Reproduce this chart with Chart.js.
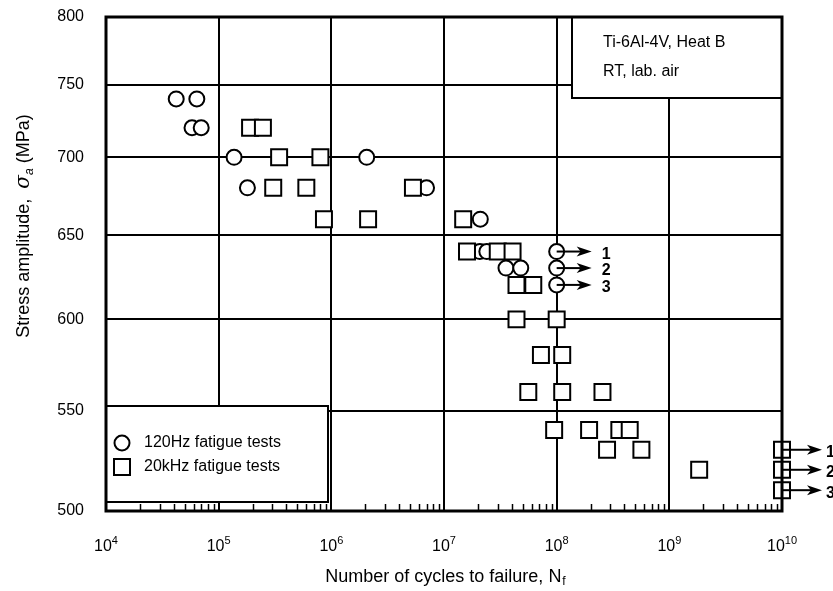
<!DOCTYPE html>
<html>
<head>
<meta charset="utf-8">
<title>Ti-6Al-4V S-N data</title>
<script src="https://cdn.jsdelivr.net/npm/chart.js@4.4.0/dist/chart.umd.min.js"></script>
<style>
  html, body { margin: 0; padding: 0; background: #fff; }
  .wrap { position: relative; width: 833px; height: 591px; }
</style>
</head>
<body>
<div class="wrap"><canvas id="sn" width="833" height="591"></canvas></div>
<script>
// cycles to failure / stress amplitude (MPa)
var hz120Cycles = [4.2e4, 6.4e4, 5.8e4, 7.0e4, 1.37e5, 2.06e6, 1.8e5, 7.0e6, 2.1e7, 2.08e7, 2.4e7, 3.55e7, 4.8e7];
var hz120Stress = [740, 740, 720, 720, 700, 700, 680, 680, 660, 640, 640, 630, 630];

var khz20Cycles = [1.9e5, 2.47e5, 3.44e5, 8.0e5, 3.05e5, 6.0e5, 5.3e6, 8.6e5, 2.12e6, 1.48e7,
  1.6e7, 3.0e7, 4.06e7, 4.4e7, 6.2e7, 4.4e7, 1.0e8, 7.25e7, 1.12e8, 5.6e7, 1.12e8, 2.55e8,
  9.5e7, 1.94e8, 3.6e8, 4.45e8, 2.8e8, 5.65e8, 1.84e9];
var khz20Stress = [720, 720, 700, 700, 680, 680, 680, 660, 660, 660,
  640, 640, 640, 620, 620, 600, 600, 580, 580, 560, 560, 560,
  540, 540, 540, 540, 530, 530, 520];

// run-outs (no failure), numbered 1..3
var hz120RunoutCycles = [1e8, 1e8, 1e8];
var hz120RunoutStress = [640, 630, 620];
var khz20RunoutCycles = [1e10, 1e10, 1e10];
var khz20RunoutStress = [530, 520, 510];
var runoutLabels = ["1", "2", "3"];

var xTicks = [1e4, 1e5, 1e6, 1e7, 1e8, 1e9, 1e10];
var yTicks = [500, 550, 600, 650, 700, 750, 800];

var legendLabels = ["120Hz fatigue tests", "20kHz fatigue tests"];
var noteLines = ["Ti-6Al-4V, Heat B", "RT, lab. air"];

(function () {
  "use strict";

  var FONT = "'Liberation Sans', Arial, Helvetica, sans-serif";

  function pairs(xs, ys) {
    return xs.map(function (x, i) { return { x: x, y: ys[i] }; });
  }

  function marker(ctx, style, x, y) {
    ctx.save();
    ctx.fillStyle = "#fff";
    ctx.strokeStyle = "#000";
    ctx.lineWidth = 2;
    ctx.beginPath();
    if (style === "circle") {
      ctx.arc(x, y, 7.5, 0, Math.PI * 2);
    } else {
      ctx.rect(x - 8, y - 8, 16, 16);
    }
    ctx.fill();
    ctx.stroke();
    ctx.restore();
  }

  function arrow(ctx, x, y, len, gap, label) {
    ctx.save();
    ctx.strokeStyle = "#000";
    ctx.fillStyle = "#000";
    ctx.lineWidth = 2;
    ctx.beginPath();
    ctx.moveTo(x, y);
    ctx.lineTo(x + len - 8, y);
    ctx.stroke();
    ctx.beginPath();
    ctx.moveTo(x + len, y);
    ctx.lineTo(x + len - 15, y - 5);
    ctx.lineTo(x + len - 11, y);
    ctx.lineTo(x + len - 15, y + 5);
    ctx.closePath();
    ctx.fill();
    ctx.font = "bold 16px " + FONT;
    ctx.textAlign = "left";
    ctx.textBaseline = "middle";
    ctx.fillText(label, x + len + gap, y + 3);
    ctx.restore();
  }

  var decorations = {
    id: "decorations",
    beforeDatasetsDraw: function (chart) {
      var ctx = chart.ctx;
      var a = chart.chartArea;
      var xs = chart.scales.x;

      // minor ticks along the bottom edge
      ctx.save();
      ctx.strokeStyle = "#000";
      ctx.lineWidth = 1.5;
      for (var d = 4; d < 10; d++) {
        for (var k = 2; k <= 9; k++) {
          var px = Math.round(xs.getPixelForValue(k * Math.pow(10, d))) + 0.5;
          ctx.beginPath();
          ctx.moveTo(px, a.bottom);
          ctx.lineTo(px, a.bottom - 7);
          ctx.stroke();
        }
      }
      ctx.restore();

      // legend box, lower left
      ctx.save();
      ctx.fillStyle = "#fff";
      ctx.strokeStyle = "#000";
      ctx.lineWidth = 2;
      ctx.fillRect(a.left, 406, 222, 96);
      ctx.strokeRect(a.left, 406, 222, 96);
      ctx.font = "16px " + FONT;
      ctx.fillStyle = "#000";
      ctx.textBaseline = "middle";
      marker(ctx, "circle", 122, 443);
      ctx.fillText(legendLabels[0], 144, 443);
      marker(ctx, "rect", 122, 467);
      ctx.fillText(legendLabels[1], 144, 467);
      ctx.restore();

      // material note, upper right
      ctx.save();
      ctx.fillStyle = "#fff";
      ctx.strokeStyle = "#000";
      ctx.lineWidth = 2;
      ctx.fillRect(572, a.top, a.right - 572, 81);
      ctx.strokeRect(572, a.top, a.right - 572, 81);
      ctx.fillStyle = "#000";
      ctx.font = "16px " + FONT;
      ctx.textBaseline = "middle";
      ctx.fillText(noteLines[0], 603, 43);
      ctx.fillText(noteLines[1], 603, 72);
      ctx.restore();
    },
    afterDatasetsDraw: function (chart) {
      var ctx = chart.ctx;
      var a = chart.chartArea;
      var xs = chart.scales.x;
      var ys = chart.scales.y;

      hz120RunoutCycles.forEach(function (c, i) {
        arrow(ctx, xs.getPixelForValue(c), ys.getPixelForValue(hz120RunoutStress[i]), 35, 10, runoutLabels[i]);
      });
      khz20RunoutCycles.forEach(function (c, i) {
        arrow(ctx, xs.getPixelForValue(c), ys.getPixelForValue(khz20RunoutStress[i]), 40, 4, runoutLabels[i]);
      });

      // heavy frame
      ctx.save();
      ctx.strokeStyle = "#000";
      ctx.lineWidth = 3;
      ctx.strokeRect(a.left, a.top, a.right - a.left, a.bottom - a.top);
      ctx.restore();

      ctx.save();
      ctx.fillStyle = "#000";
      ctx.textBaseline = "alphabetic";

      // decade labels 10^n
      xTicks.forEach(function (v) {
        var base = "10";
        var exp = String(Math.round(Math.log10(v)));
        ctx.font = "16px " + FONT;
        var bw = ctx.measureText(base).width;
        ctx.font = "11px " + FONT;
        var ew = ctx.measureText(exp).width;
        var left = xs.getPixelForValue(v) - (bw + ew) / 2;
        ctx.font = "16px " + FONT;
        ctx.fillText(base, left, 551);
        ctx.font = "11px " + FONT;
        ctx.fillText(exp, left + bw, 544);
      });

      // x title with subscript
      var xt = "Number of cycles to failure, N";
      ctx.font = "18px " + FONT;
      var w1 = ctx.measureText(xt).width;
      ctx.font = "12px " + FONT;
      var w2 = ctx.measureText("f").width;
      var sx = 445 - (w1 + w2) / 2;
      ctx.font = "18px " + FONT;
      ctx.fillText(xt, sx, 582);
      ctx.font = "12px " + FONT;
      ctx.fillText("f", sx + w1 + 1, 585);

      // y title with sigma_a
      ctx.translate(29, 226);
      ctx.rotate(-Math.PI / 2);
      var p1 = "Stress amplitude,  ";
      var p3 = " (MPa)";
      ctx.font = "18px " + FONT;
      var a1 = ctx.measureText(p1).width;
      var a3 = ctx.measureText(p3).width;
      ctx.font = "italic 20px 'DejaVu Serif', serif";
      var a2 = ctx.measureText("\u03c3").width;
      ctx.font = "italic 12px " + FONT;
      var a2s = ctx.measureText("a").width;
      var tx = -(a1 + a2 + a2s + a3) / 2;
      ctx.font = "18px " + FONT;
      ctx.fillText(p1, tx, 0);
      ctx.font = "italic 20px 'DejaVu Serif', serif";
      ctx.fillText("\u03c3", tx + a1, 0);
      ctx.font = "italic 12px " + FONT;
      ctx.fillText("a", tx + a1 + a2, 4);
      ctx.font = "18px " + FONT;
      ctx.fillText(p3, tx + a1 + a2 + a2s, 0);
      ctx.restore();
    }
  };

  var pointBase = {
    showLine: false,
    backgroundColor: "#fff",
    borderColor: "#000",
    borderWidth: 2,
    hoverRadius: 0,
    clip: false
  };

  function ds(label, data, style, radius, order) {
    return Object.assign({}, pointBase, {
      label: label,
      data: data,
      pointStyle: style,
      pointRadius: radius,
      order: order
    });
  }

  Chart.defaults.font.family = FONT;
  Chart.defaults.color = "#000";

  new Chart(document.getElementById("sn"), {
    type: "scatter",
    data: {
      datasets: [
        ds(legendLabels[0], pairs(hz120Cycles, hz120Stress), "circle", 7.5, 2),
        ds(legendLabels[0] + " (run-out)", pairs(hz120RunoutCycles, hz120RunoutStress), "circle", 7.5, 2),
        ds(legendLabels[1], pairs(khz20Cycles, khz20Stress), "rect", 11.3, 1),
        ds(legendLabels[1] + " (run-out)", pairs(khz20RunoutCycles, khz20RunoutStress), "rect", 11.3, 1)
      ]
    },
    options: {
      responsive: false,
      animation: false,
      events: [],
      layout: { padding: { top: 17, right: 51, left: 0, bottom: 0 } },
      plugins: {
        legend: { display: false },
        tooltip: { enabled: false }
      },
      scales: {
        x: {
          type: "logarithmic",
          min: 1e4,
          max: 1e10,
          afterBuildTicks: function (s) {
            s.ticks = xTicks.map(function (v) { return { value: v }; });
          },
          afterFit: function (s) {
            s.height = 80;
            s.paddingLeft = 0;
            s.paddingRight = 0;
          },
          grid: { color: "#000", lineWidth: 2, drawTicks: false },
          border: { display: false },
          ticks: { display: false }
        },
        y: {
          type: "logarithmic",
          min: 500,
          max: 800,
          afterBuildTicks: function (s) {
            s.ticks = yTicks.map(function (v) { return { value: v }; });
          },
          afterFit: function (s) {
            s.width = 106;
            s.paddingTop = 0;
            s.paddingBottom = 0;
          },
          grid: { color: "#000", lineWidth: 2, drawTicks: false },
          border: { display: false },
          ticks: {
            padding: 22,
            font: { size: 16 },
            callback: function (v) { return String(v); }
          }
        }
      }
    },
    plugins: [decorations]
  });
})();
</script>
</body>
</html>
